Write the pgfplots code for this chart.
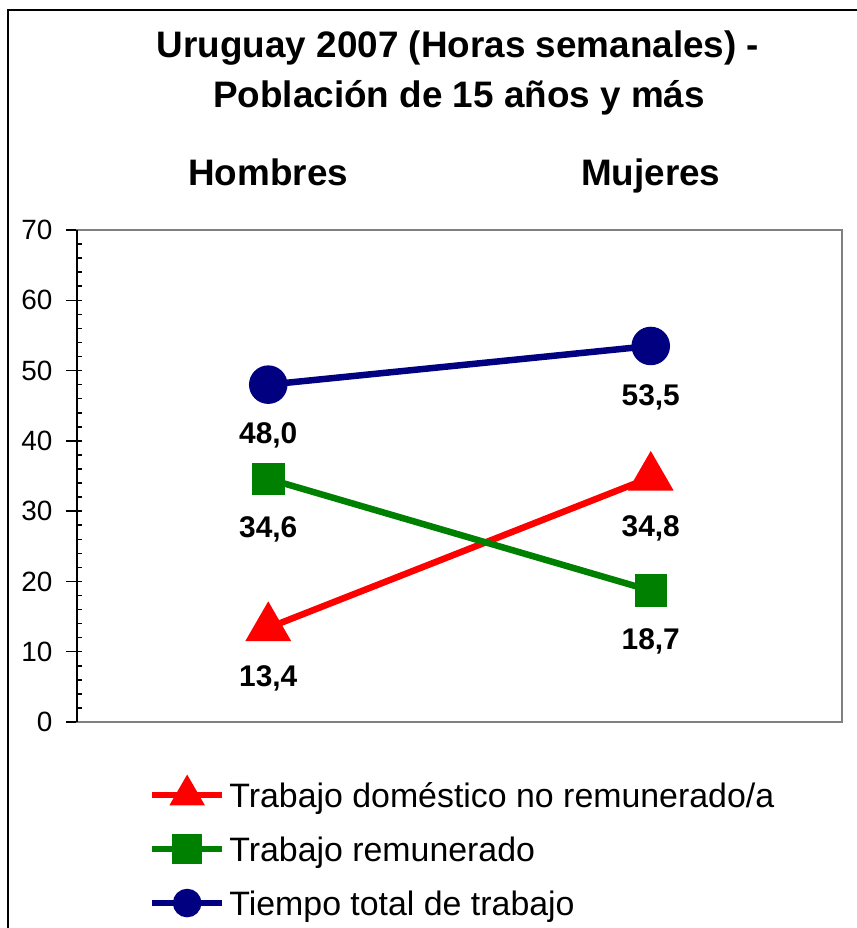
\documentclass[border=0pt]{standalone}
\usepackage{fontspec}
\setmainfont{Liberation Sans}
\usepackage{pgfplots}
\pgfplotsset{compat=1.18}
\definecolor{cred}{RGB}{255,0,0}
\definecolor{cgreen}{RGB}{0,128,0}
\definecolor{cblue}{RGB}{0,0,128}
\definecolor{cgray}{RGB}{128,128,128}
\begin{document}
\begin{tikzpicture}
\path[use as bounding box] (0bp,0bp) rectangle (857bp,-928bp);
\clip (0bp,0bp) rectangle (857bp,-928bp);
\draw[line width=2bp] (8bp,-10bp) rectangle (1000bp,-1100bp);
\node[anchor=base, font=\fontsize{37}{40}\selectfont\bfseries] at (458bp,-57bp) {Uruguay 2007 (Horas semanales) -};
\node[anchor=base, font=\fontsize{37}{40}\selectfont\bfseries] at (459bp,-107bp) {Población de 15 años y más};
\begin{axis}[
  at={(77bp,-722bp)}, anchor=south west,
  width=765bp, height=492bp, scale only axis,
  xmin=-0.5, xmax=1.5, ymin=0, ymax=70,
  xtick={0,1}, xticklabels={Hombres,Mujeres}, xticklabel pos=upper,
  xtick style={draw=none},
  xticklabel style={font=\fontsize{37}{40}\selectfont\bfseries, anchor=base, yshift=45bp},
  ytick={0,10,...,70}, minor y tick num=4, ytick pos=left,
  tick align=inside,
  major tick length=16bp, minor tick length=5bp,
  major tick style={xshift=-11bp},
  ytick style={black, line width=1.5bp},
  axis line style={cgray, line width=2.5bp},
  yticklabel style={font=\fontsize{28}{30}\selectfont, xshift=-21bp},
  /pgf/number format/assume math mode=true,
  clip=false,
  legend style={at={(0.094,-0.120)}, anchor=north west, draw=none, fill=none,
    font=\fontsize{34}{36}\selectfont, inner sep=0pt, outer sep=0pt,
    row sep=26bp, column sep=4bp,
    nodes={inner sep=0pt, text height=24bp, text depth=0bp}},
  legend cell align=left,
  legend image code/.code={
    \path[draw=none, fill=none] (0bp,-14bp) rectangle (70bp,14bp);
    \draw[mark repeat=2, mark phase=2, #1] plot coordinates {(0bp,0bp) (35bp,0bp) (70bp,0bp)};
  },
  nodes near coords={\pgfmathprintnumber[fixed,fixed zerofill,precision=1,use comma]{\pgfplotspointmeta}},
  every node near coord/.append style={font=\fontsize{30}{32}\selectfont\bfseries, text=black, anchor=center, yshift=-51bp},
]
\addplot[cred, line width=6.5bp, mark=triangle*, mark size=20bp, mark options={solid},
  legend image post style={mark size=14bp}] coordinates {(0,13.4) (1,34.8)};
\addlegendentry{Trabajo doméstico no remunerado/a}
\addplot[cgreen, line width=6.5bp, mark=square*, mark size=13bp,
  legend image post style={mark size=11.5bp}] coordinates {(0,34.6) (1,18.7)};
\addlegendentry{Trabajo remunerado}
\addplot[cblue, line width=6.5bp, mark=*, mark size=16bp,
  legend image post style={mark size=11bp}] coordinates {(0,48.0) (1,53.5)};
\addlegendentry{Tiempo total de trabajo}
\draw[black, line width=2bp] (axis cs:-0.5,0) -- (axis cs:-0.5,70);
\end{axis}
\end{tikzpicture}
\end{document}
